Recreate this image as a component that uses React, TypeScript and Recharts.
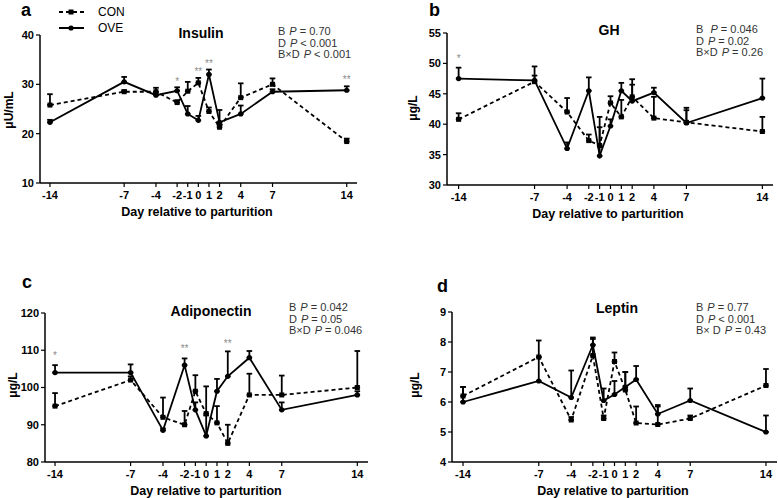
import React from 'react';
import {
  ComposedChart,
  Line,
  Scatter,
  XAxis,
  YAxis,
  ErrorBar
} from 'recharts';

const days = [-14, -7, -4, -2, -1, 0, 1, 2, 4, 7, 14];

// insulin (uU/mL)
const insulinCon = [25.8, 28.5, 28.5, 26.3, 28.6, 30.3, 24.5, 21.3, 27.3, 30.0, 18.4];
const insulinConSem = [2.2, 0.3, 0.8, 0.5, 1.9, 1.0, 0.8, 0.4, 2.9, 1.2, 0.6];
const insulinOve = [22.3, 30.5, 27.8, 28.7, 24.0, 22.7, 32.0, 22.3, 24.0, 28.5, 28.8];
const insulinOveSem = [0.5, 1.0, 0.6, 0.7, 1.6, 0.9, 1.0, 2.5, 1.7, 0.5, 0.8];
const insulinStarDays = [-2, 0, 1, 14];
const insulinStarY = [29.9, 31.9, 33.5, 30.2];
const insulinStars = ['*', '**', '**', '**'];

// GH (ug/L)
const ghCon = [40.8, 47.0, 42.0, 37.3, 36.5, 43.5, 41.2, 44.5, 41.0, 40.3, 38.8];
const ghConSem = [1.0, 1.0, 2.3, 1.0, 3.0, 1.1, 2.8, 2.0, 3.5, 2.0, 2.4];
const ghOve = [47.5, 47.2, 36.0, 45.5, 34.8, 39.7, 45.5, 43.8, 45.2, 40.2, 44.3];
const ghOveSem = [1.8, 2.3, 1.0, 2.2, 6.4, 1.1, 1.3, 3.6, 0.8, 2.5, 3.2];
const ghStarDays = [-14];
const ghStarY = [50.2];
const ghStars = ['*'];

// adiponectin (ug/L)
const adipoCon = [95, 102, 92, 90, 99, 93, 90.5, 85, 98, 98, 100];
const adipoConSem = [3.5, 1.0, 5.3, 3.7, 4.3, 7.3, 4.5, 5.0, 5.7, 5.2, 9.8];
const adipoOve = [104, 104, 88.5, 106, 94, 87, 99, 103, 108, 94, 98];
const adipoOveSem = [2.0, 2.2, 0.5, 1.8, 2.0, 5.5, 3.3, 6.7, 1.8, 2.0, 1.0];
const adipoStarDays = [-14, -2, 2];
const adipoStarY = [107.6, 109.6, 110.8];
const adipoStars = ['*', '**', '**'];

// leptin (ug/L)
const leptinCon = [6.2, 7.5, 5.4, 7.55, 5.45, 7.35, 6.4, 5.3, 5.25, 5.45, 6.55];
const leptinConSem = [0.3, 0.55, 0.1, 0.55, 0.1, 0.3, 0.6, 0.55, 0.6, 0.1, 0.55];
const leptinOve = [6.0, 6.7, 6.15, 7.9, 6.05, 6.25, 6.5, 6.75, 5.6, 6.05, 5.0];
const leptinOveSem = [0.5, 0.8, 0.9, 0.25, 0.4, 0.45, 0.5, 0.45, 0.3, 0.4, 0.55];

const FONT = '"Liberation Sans", Arial, sans-serif';

const buildRows = (con: number[], conSem: number[], ove: number[], oveSem: number[]) =>
  days.map((d, i) => ({
    day: d,
    con: con[i],
    ove: ove[i],
    conErr: [0, conSem[i]],
    oveErr: [0, oveSem[i]]
  }));

const buildStars = (sd: number[], sy: number[], st: string[]) =>
  sd.map((d, i) => ({ day: d, y: sy[i], text: st[i] }));

const SquareDot = (props: any) => {
  const { cx, cy } = props;
  if (cx == null || cy == null) return null;
  return <rect x={cx - 2.5} y={cy - 2.5} width={5} height={5} fill="#000" />;
};

const RoundDot = (props: any) => {
  const { cx, cy } = props;
  if (cx == null || cy == null) return null;
  return <circle cx={cx} cy={cy} r={2.6} fill="#000" />;
};

const StarShape = (props: any) => (
  <text
    x={props.cx}
    y={props.cy}
    textAnchor="middle"
    fontSize={10}
    fontFamily={FONT}
    style={{ fill: '#8c8c8c', stroke: 'none' }}
  >
    {props.payload.text}
  </text>
);

interface PanelProps {
  left: number;
  top: number;
  plotLeft: number;
  plotTop: number;
  plotRight: number;
  plotBottom: number;
  xDomain: [number, number];
  yDomain: [number, number];
  yTicks: number[];
  rows: any[];
  stars: any[];
}

const W = 389;
const H = 249;

const Panel: React.FC<PanelProps> = ({
  left, top, plotLeft, plotTop, plotRight, plotBottom, xDomain, yDomain, yTicks, rows, stars
}) => {
  const tick = { fontSize: 11, fontWeight: 700, fill: '#000', fontFamily: FONT };
  return (
    <div style={{ position: 'absolute', left, top, width: W, height: H }}>
      <ComposedChart
        width={W}
        height={H}
        data={rows}
        margin={{ top: plotTop, left: 0, right: W - plotRight, bottom: H - plotBottom - 20 }}
      >
        <XAxis
          dataKey="day"
          type="number"
          domain={xDomain}
          ticks={days}
          interval={0}
          allowDataOverflow
          height={20}
          tick={tick}
          tickSize={4}
          tickMargin={4}
          axisLine={{ stroke: '#000', strokeWidth: 1.5 }}
          tickLine={{ stroke: '#000', strokeWidth: 1.2 }}
        />
        <YAxis
          type="number"
          width={plotLeft}
          domain={yDomain}
          ticks={yTicks}
          interval={0}
          allowDataOverflow
          tick={tick}
          tickSize={4}
          tickMargin={2}
          axisLine={{ stroke: '#000', strokeWidth: 1.5 }}
          tickLine={{ stroke: '#000', strokeWidth: 1.2 }}
        />
        <Line
          dataKey="con"
          stroke="#000"
          strokeWidth={1.8}
          strokeDasharray="4 3"
          dot={<SquareDot />}
          isAnimationActive={false}
        >
          <ErrorBar dataKey="conErr" direction="y" width={2.8} stroke="#000" strokeWidth={1.8} />
        </Line>
        <Line
          dataKey="ove"
          stroke="#000"
          strokeWidth={1.8}
          dot={<RoundDot />}
          isAnimationActive={false}
        >
          <ErrorBar dataKey="oveErr" direction="y" width={2.8} stroke="#000" strokeWidth={1.8} />
        </Line>
        <Scatter data={stars} dataKey="y" shape={StarShape} isAnimationActive={false} />
      </ComposedChart>
    </div>
  );
};

const Stats = ({ x, y, lines }: { x: number; y: number; lines: [string, string][] }) => (
  <g fontSize={11} fill="#333" fontFamily={FONT}>
    {lines.map((l, i) => (
      <text key={i} x={x} y={y + i * 11.5}>
        {l[0]}
        <tspan fontStyle="italic" dx={4}>P</tspan>
        <tspan>{' ' + l[1]}</tspan>
      </text>
    ))}
  </g>
);

export default function App() {
  const bold = { fontFamily: FONT, fontWeight: 700, fill: '#000' } as any;
  return (
    <div style={{ position: 'absolute', left: 0, top: 0, width: 778, height: 498, background: '#fff' }}>
      <Panel
        left={0} top={0}
        plotLeft={40} plotTop={35} plotRight={357} plotBottom={183}
        xDomain={[-14.94, 14.97]} yDomain={[10, 40]} yTicks={[10, 20, 30, 40]}
        rows={buildRows(insulinCon, insulinConSem, insulinOve, insulinOveSem)}
        stars={buildStars(insulinStarDays, insulinStarY, insulinStars)}
      />
      <Panel
        left={389} top={0}
        plotLeft={58} plotTop={33} plotRight={384} plotBottom={185}
        xDomain={[-15.07, 14.98]} yDomain={[30, 55]} yTicks={[30, 35, 40, 45, 50, 55]}
        rows={buildRows(ghCon, ghConSem, ghOve, ghOveSem)}
        stars={buildStars(ghStarDays, ghStarY, ghStars)}
      />
      <Panel
        left={0} top={249}
        plotLeft={45} plotTop={64} plotRight={368} plotBottom={213}
        xDomain={[-14.93, 14.99]} yDomain={[80, 120]} yTicks={[80, 90, 100, 110, 120]}
        rows={buildRows(adipoCon, adipoConSem, adipoOve, adipoOveSem)}
        stars={buildStars(adipoStarDays, adipoStarY, adipoStars)}
      />
      <Panel
        left={389} top={249}
        plotLeft={63} plotTop={63} plotRight={388} plotBottom={213}
        xDomain={[-15.02, 15.02]} yDomain={[4, 9]} yTicks={[4, 5, 6, 7, 8, 9]}
        rows={buildRows(leptinCon, leptinConSem, leptinOve, leptinOveSem)}
        stars={[]}
      />
      <svg width={778} height={498} style={{ position: 'absolute', left: 0, top: 0, pointerEvents: 'none' }}>
        {/* panel letters */}
        <text x={21} y={16} fontSize={18} {...bold}>a</text>
        <text x={429} y={16} fontSize={18} {...bold}>b</text>
        <text x={22} y={288} fontSize={18} {...bold}>c</text>
        <text x={437} y={292} fontSize={18} {...bold}>d</text>

        {/* legend */}
        <line x1={59} y1={12} x2={84} y2={12} stroke="#000" strokeWidth={2} strokeDasharray="4 3" />
        <rect x={68.5} y={9.5} width={5} height={5} fill="#000" />
        <text x={98} y={16} fontSize={12} fill="#000" fontFamily={FONT}>CON</text>
        <line x1={59} y1={28} x2={84} y2={28} stroke="#000" strokeWidth={2} />
        <circle cx={71} cy={28} r={2.6} fill="#000" />
        <text x={98} y={32} fontSize={12} fill="#000" fontFamily={FONT}>OVE</text>

        {/* titles */}
        <text x={201} y={38} fontSize={14} textAnchor="middle" {...bold}>Insulin</text>
        <text x={609} y={35} fontSize={14} textAnchor="middle" {...bold}>GH</text>
        <text x={211} y={316} fontSize={14} textAnchor="middle" {...bold}>Adiponectin</text>
        <text x={617} y={313} fontSize={14} textAnchor="middle" {...bold}>Leptin</text>

        {/* stats */}
        <Stats x={278} y={35} lines={[['B', '= 0.70'], ['D', '< 0.001'], ['B\u00d7D', '< 0.001']]} />
        <Stats x={696} y={33} lines={[['B ', '= 0.046'], ['D', '= 0.02'], ['B\u00d7D', '= 0.26']]} />
        <Stats x={289} y={311} lines={[['B', '= 0.042'], ['D', '= 0.05'], ['B\u00d7D', '= 0.046']]} />
        <Stats x={696} y={311} lines={[['B', '= 0.77'], ['D', '< 0.001'], ['B\u00d7 D', '= 0.43']]} />

        {/* axis titles */}
        <text x={197} y={216} fontSize={12.5} textAnchor="middle" {...bold}>Day relative to parturition</text>
        <text x={608} y={218} fontSize={12.5} textAnchor="middle" {...bold}>Day relative to parturition</text>
        <text x={206} y={495} fontSize={12.5} textAnchor="middle" {...bold}>Day relative to parturition</text>
        <text x={613} y={495} fontSize={12.5} textAnchor="middle" {...bold}>Day relative to parturition</text>

        <text transform="translate(13,110) rotate(-90)" fontSize={12} textAnchor="middle" {...bold}>μU/mL</text>
        <text transform="translate(417,108) rotate(-90)" fontSize={12} textAnchor="middle" {...bold}>μg/L</text>
        <text transform="translate(17,385) rotate(-90)" fontSize={12} textAnchor="middle" {...bold}>μg/L</text>
        <text transform="translate(419,385) rotate(-90)" fontSize={12} textAnchor="middle" {...bold}>μg/L</text>
      </svg>
    </div>
  );
}
